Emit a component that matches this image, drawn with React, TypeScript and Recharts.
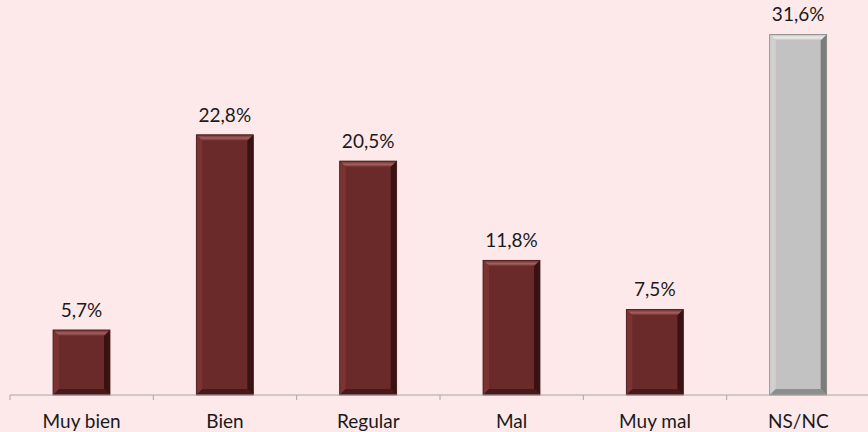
import { BarChart, Bar, XAxis, YAxis, Cell, LabelList } from "recharts";

const categories = ["Muy bien", "Bien", "Regular", "Mal", "Muy mal", "NS/NC"];
const values = [5.7, 22.8, 20.5, 11.8, 7.5, 31.6];
const palettes = ["red", "red", "red", "red", "red", "gray"];

const data = categories.map((name, i) => ({ name, value: values[i], palette: palettes[i] }));

const W = 870;
const H = 432;
const LEFT = 10;
const BAND = (W - LEFT) / categories.length;
const FONT = "Lato, 'Open Sans', sans-serif";

const COLORS: Record<string, { body: string; top: string; left: string; right: string; bottom: string; edge: string }> = {
  red: { body: "#6b2a2a", top: "#a46060", left: "#793333", right: "#3a1212", bottom: "#4a1818", edge: "#4a1a1a" },
  gray: { body: "#c2c2c2", top: "#ececec", left: "#d0d0d0", right: "#7c7c7c", bottom: "#8e8e8e", edge: "#8a8a8a" },
};

function BevelBar(props: any) {
  const { x, y, width, height, payload, index } = props;
  if (!height || height <= 0) return null;
  const c = COLORS[payload.palette];
  const b = Math.min(6, height / 3);
  const x2 = x + width;
  const y2 = y + height;
  const gid = `bevel-top-${index}`;
  return (
    <g>
      <defs>
        <linearGradient id={gid} x1="0" y1="0" x2="0" y2="1">
          <stop offset="0%" stopColor={c.body} />
          <stop offset="55%" stopColor={c.top} />
          <stop offset="100%" stopColor={c.body} />
        </linearGradient>
      </defs>
      <rect x={x} y={y} width={width} height={height} fill={c.body} />
      <polygon points={`${x},${y} ${x2},${y} ${x2 - b},${y + b} ${x + b},${y + b}`} fill={`url(#${gid})`} />
      <polygon points={`${x},${y} ${x + b},${y + b} ${x + b},${y2 - b} ${x},${y2}`} fill={c.left} />
      <polygon points={`${x2},${y} ${x2},${y2} ${x2 - b},${y2 - b} ${x2 - b},${y + b}`} fill={c.right} />
      <polygon points={`${x},${y2} ${x + b},${y2 - b} ${x2 - b},${y2 - b} ${x2},${y2}`} fill={c.bottom} />
      <rect x={x} y={y} width={width} height={height} fill="none" stroke={c.edge} strokeWidth={0.8} />
    </g>
  );
}

function CatTick(props: any) {
  const { x, y, payload, index } = props;
  const half = BAND / 2;
  return (
    <g>
      {index === 0 && <line x1={x - half} x2={x - half} y1={y} y2={y + 5} stroke="#a6a6a6" />}
      <line x1={x + half} x2={x + half} y1={y} y2={y + 5} stroke="#a6a6a6" />
      <text x={x} y={y + 33} textAnchor="middle" fontSize={19} fontFamily={FONT} fill="#1a1a1a">
        {payload.value}
      </text>
    </g>
  );
}

export default function App() {
  return (
    <div style={{ position: "fixed", top: 0, left: 0, width: 868, height: 432, overflow: "hidden", background: "#fde9ea" }}>
      <BarChart width={W} height={H} data={data} margin={{ top: 7, right: 0, bottom: 0, left: LEFT }} barCategoryGap="30%">
        <XAxis
          dataKey="name"
          height={37}
          axisLine={{ stroke: "#a6a6a6", strokeWidth: 1 }}
          tickLine={false}
          tickSize={0}
          tickMargin={0}
          tick={<CatTick />}
          interval={0}
        />
        <YAxis hide domain={[0, 34]} />
        <Bar dataKey="value" shape={<BevelBar />} isAnimationActive={false}>
          {data.map((d) => (
            <Cell key={d.name} />
          ))}
          <LabelList
            dataKey="value"
            position="top"
            offset={13}
            formatter={(v: any) => `${String(v).replace(".", ",")}%`}
            style={{ fontSize: 19, fontFamily: FONT, fill: "#1a1a1a" }}
          />
        </Bar>
      </BarChart>
    </div>
  );
}
